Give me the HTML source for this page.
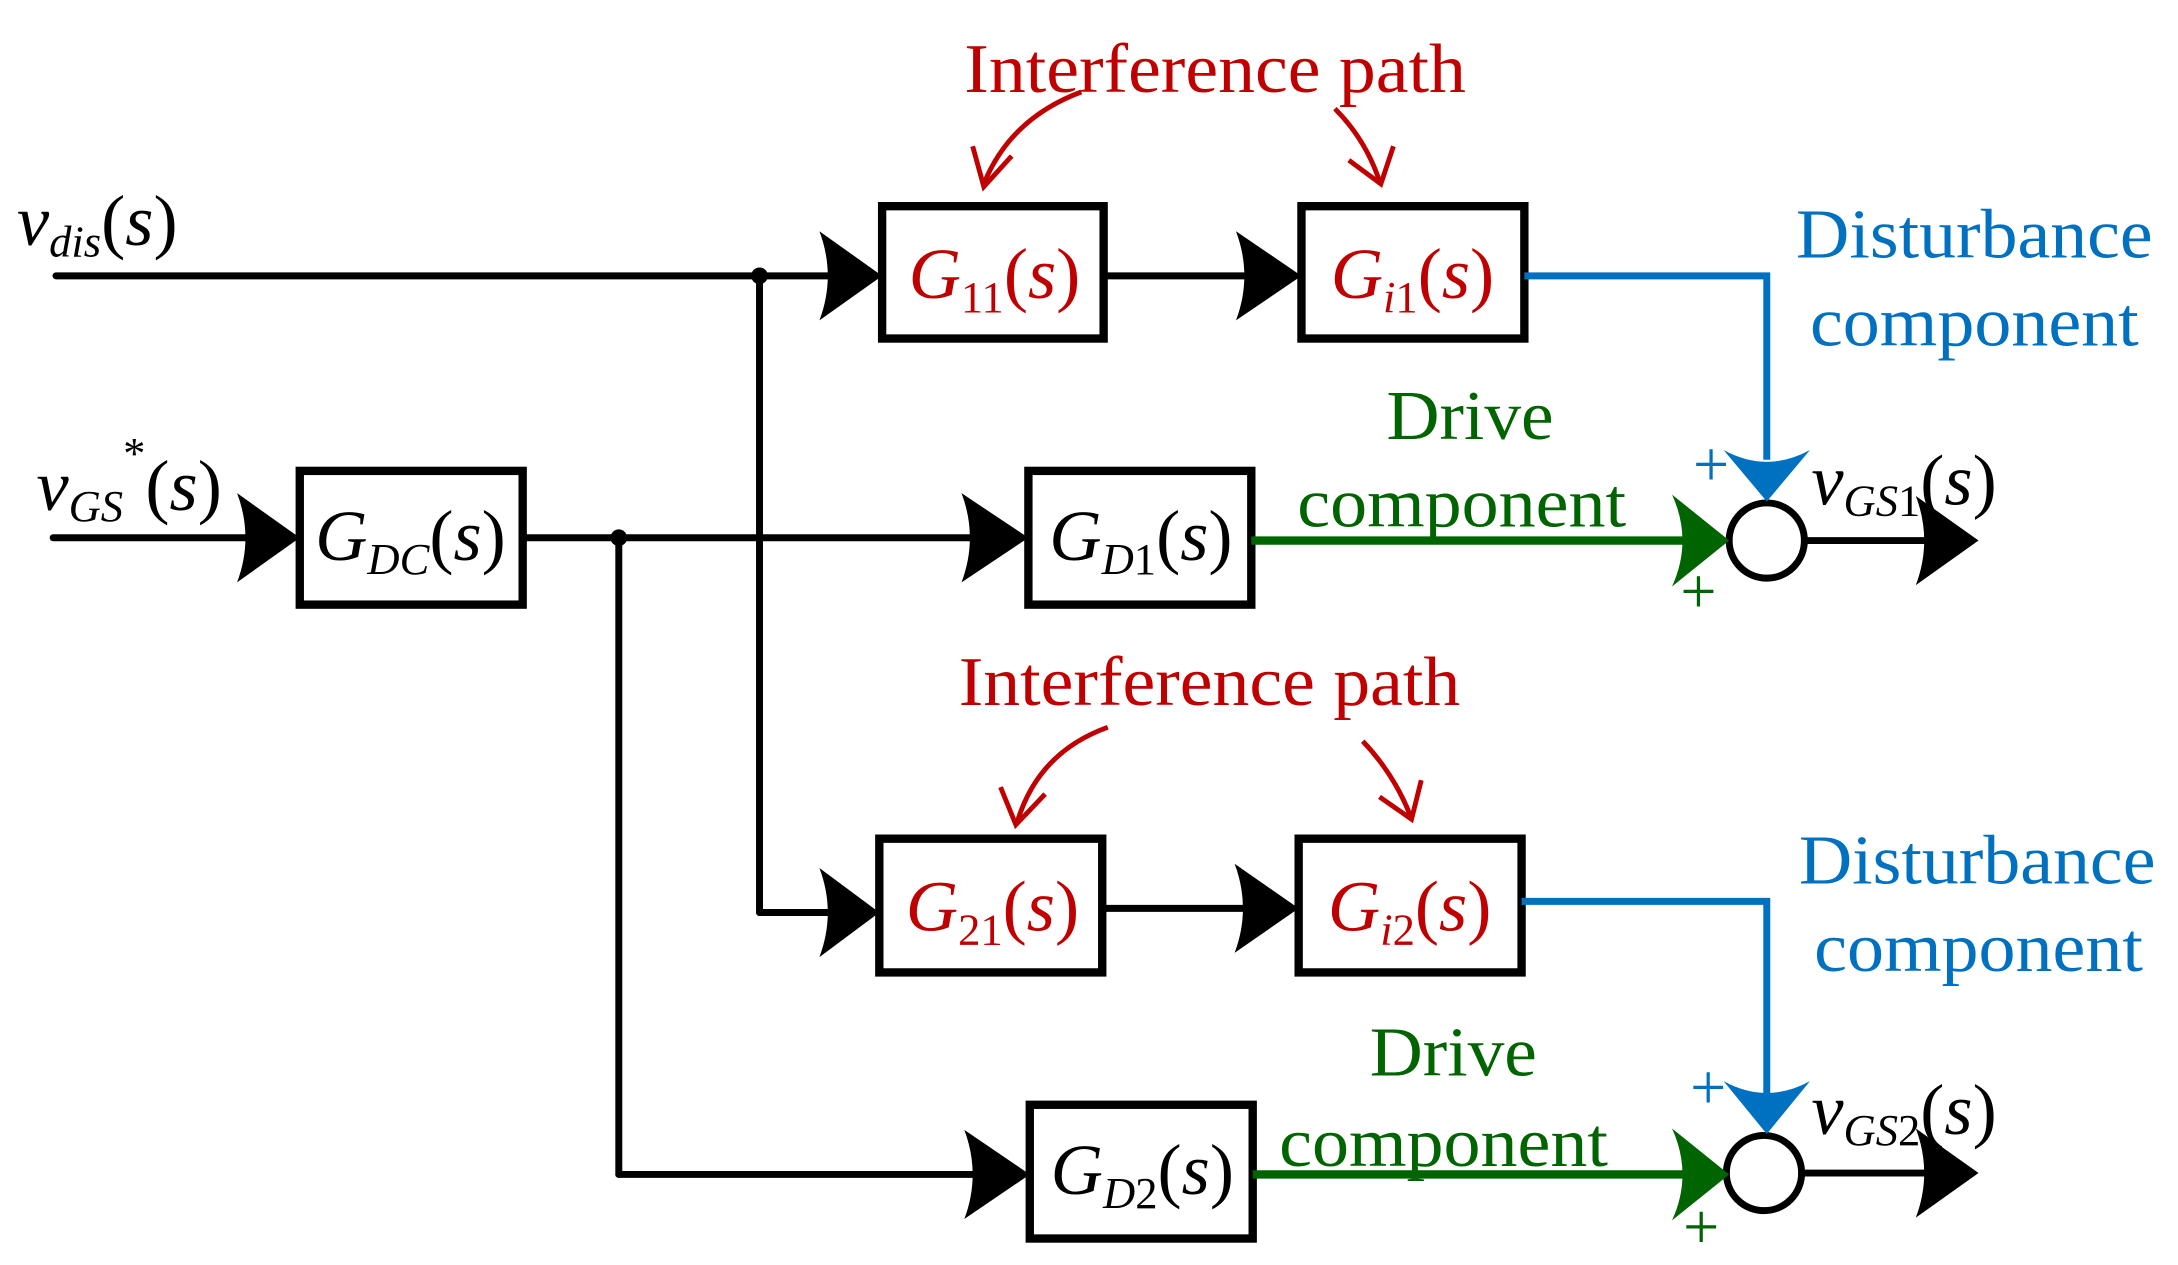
<!DOCTYPE html>
<html><head><style>html,body{margin:0;padding:0;background:#fff}svg{display:block}</style></head><body>
<svg width="2178" height="1265" viewBox="0 0 1563 908" xmlns="http://www.w3.org/2000/svg" font-family="Liberation Serif, serif">
<g stroke="#000" stroke-width="6" fill="none">
<rect x="633" y="148" width="159" height="95"/>
<rect x="934" y="148" width="160" height="95"/>
<rect x="215" y="338" width="160" height="96"/>
<rect x="738" y="338" width="160" height="96"/>
<rect x="631" y="602" width="160" height="96"/>
<rect x="932" y="602" width="160" height="96"/>
<rect x="739" y="793" width="160" height="96"/>
<circle cx="1268" cy="388" r="27" stroke-width="5"/>
<circle cx="1266" cy="842" r="27" stroke-width="5"/>
</g>
<g stroke="#000" stroke-width="5" fill="none" stroke-linecap="round">
<line x1="40" y1="198" x2="600" y2="198"/>
<line x1="792" y1="198" x2="900" y2="198"/>
<line x1="38" y1="386" x2="180" y2="386"/>
<line x1="375" y1="386" x2="700" y2="386"/>
<line x1="545" y1="198" x2="545" y2="655"/>
<line x1="545" y1="655" x2="600" y2="655"/>
<line x1="791" y1="652" x2="900" y2="652"/>
<line x1="444" y1="386" x2="444" y2="843"/>
<line x1="444" y1="843" x2="705" y2="843"/>
<line x1="1295" y1="388" x2="1385" y2="388"/>
<line x1="1293" y1="842" x2="1385" y2="842"/>
</g>
<g fill="#000">
<circle cx="545" cy="198" r="6"/><circle cx="444" cy="386" r="6"/>
<path d="M588,166 Q600,198 588,230 L633,198Z"/>
<path d="M887,166 Q899,198 887,230 L934,198Z"/>
<path d="M170,354 Q182,386 170,418 L215,386Z"/>
<path d="M690,354 Q702,386 690,418 L738,386Z"/>
<path d="M588,623 Q600,655 588,687 L631,655Z"/>
<path d="M886,620 Q898,652 886,684 L932,652Z"/>
<path d="M692,811 Q704,843 692,875 L739,843Z"/>
<path d="M1375,356 Q1387,388 1375,420 L1420,388Z"/>
<path d="M1375,810 Q1387,842 1375,874 L1420,842Z"/>
</g>
<g stroke="#0070c0" stroke-width="5" fill="none">
<polyline points="1094,198 1268,198 1268,330"/>
<polyline points="1092,647 1268,647 1268,785"/>
</g>
<g fill="#0070c0">
<path d="M1237,323 L1268,360 L1299,323 Q1268,340 1237,323Z"/>
<path d="M1237,776 L1268,814 L1299,776 Q1268,793 1237,776Z"/>
</g>
<g stroke="#006400" stroke-width="6" fill="none">
<line x1="898" y1="388" x2="1215" y2="388"/>
<line x1="899" y1="843" x2="1215" y2="843"/>
</g>
<g fill="#006400">
<path d="M1200,355 Q1215,388 1200,421 L1241,388Z"/>
<path d="M1200,810 Q1215,843 1200,876 L1241,843Z"/>
</g>
<g stroke="#c00000" stroke-width="3.5" fill="none">
<path d="M776,66 Q725,85 706,132"/><path d="M698,105 L706,134 L726,112"/>
<path d="M958,78 Q980,100 990,130"/><path d="M968,115 L991,132 L1000,105"/>
<path d="M795,522 Q745,540 730,590"/><path d="M718,565 L729,592 L750,570"/>
<path d="M978,532 Q1000,555 1012,585"/><path d="M990,572 L1013,588 L1020,560"/>
</g>
<g font-size="50" fill="#c00000">
<text x="692" y="66" textLength="360" lengthAdjust="spacingAndGlyphs">Interference path</text>
<text x="688" y="506" textLength="360" lengthAdjust="spacingAndGlyphs">Interference path</text>
</g>
<g font-size="50" fill="#0070c0">
<text x="1289" y="185" textLength="256" lengthAdjust="spacingAndGlyphs">Disturbance</text>
<text x="1299" y="248" textLength="236" lengthAdjust="spacingAndGlyphs">component</text>
<text x="1291" y="634" textLength="256" lengthAdjust="spacingAndGlyphs">Disturbance</text>
<text x="1302" y="697" textLength="236" lengthAdjust="spacingAndGlyphs">component</text>
</g>
<g font-size="50" fill="#006400">
<text x="995" y="315" textLength="120" lengthAdjust="spacingAndGlyphs">Drive</text>
<text x="931" y="378" textLength="236" lengthAdjust="spacingAndGlyphs">component</text>
<text x="983" y="772" textLength="120" lengthAdjust="spacingAndGlyphs">Drive</text>
<text x="918" y="837" textLength="236" lengthAdjust="spacingAndGlyphs">component</text>
</g>
<g font-size="46">
<text x="1215" y="349" fill="#0070c0">+</text>
<text x="1206" y="440" fill="#006400">+</text>
<text x="1213" y="796" fill="#0070c0">+</text>
<text x="1208" y="896" fill="#006400">+</text>
</g>
<g font-size="52" font-style="italic">
<g fill="#c00000">
<text x="652" y="214">G<tspan font-size="32" font-style="normal" dy="10">11</tspan><tspan font-style="normal" dy="-10">(</tspan>s<tspan font-style="normal">)</tspan></text>
<text x="955" y="214">G<tspan font-size="32" dy="10">i</tspan><tspan font-size="32" font-style="normal">1</tspan><tspan font-style="normal" dy="-10">(</tspan>s<tspan font-style="normal">)</tspan></text>
<text x="650" y="668">G<tspan font-size="32" font-style="normal" dy="10">21</tspan><tspan font-style="normal" dy="-10">(</tspan>s<tspan font-style="normal">)</tspan></text>
<text x="953" y="668">G<tspan font-size="32" dy="10">i</tspan><tspan font-size="32" font-style="normal">2</tspan><tspan font-style="normal" dy="-10">(</tspan>s<tspan font-style="normal">)</tspan></text>
</g>
<text x="226" y="402">G<tspan font-size="32" dy="10">DC</tspan><tspan font-style="normal" dy="-10">(</tspan>s<tspan font-style="normal">)</tspan></text>
<text x="753" y="402">G<tspan font-size="32" dy="10">D</tspan><tspan font-size="32" font-style="normal">1</tspan><tspan font-style="normal" dy="-10">(</tspan>s<tspan font-style="normal">)</tspan></text>
<text x="754" y="857">G<tspan font-size="32" dy="10">D</tspan><tspan font-size="32" font-style="normal">2</tspan><tspan font-style="normal" dy="-10">(</tspan>s<tspan font-style="normal">)</tspan></text>
<text x="12" y="176">v<tspan font-size="32" dy="8">dis</tspan><tspan font-style="normal" dy="-8">(</tspan>s<tspan font-style="normal">)</tspan></text>
<text x="26" y="366">v<tspan font-size="32" dy="8">GS</tspan><tspan font-size="32" font-style="normal" dy="-38">*</tspan><tspan font-style="normal" dy="30">(</tspan>s<tspan font-style="normal">)</tspan></text>
<text x="1300" y="362">v<tspan font-size="32" dy="8">GS</tspan><tspan font-size="32" font-style="normal">1</tspan><tspan font-style="normal" dy="-8">(</tspan>s<tspan font-style="normal">)</tspan></text>
<text x="1300" y="814">v<tspan font-size="32" dy="8">GS</tspan><tspan font-size="32" font-style="normal">2</tspan><tspan font-style="normal" dy="-8">(</tspan>s<tspan font-style="normal">)</tspan></text>
</g>
</svg>
</body></html>
